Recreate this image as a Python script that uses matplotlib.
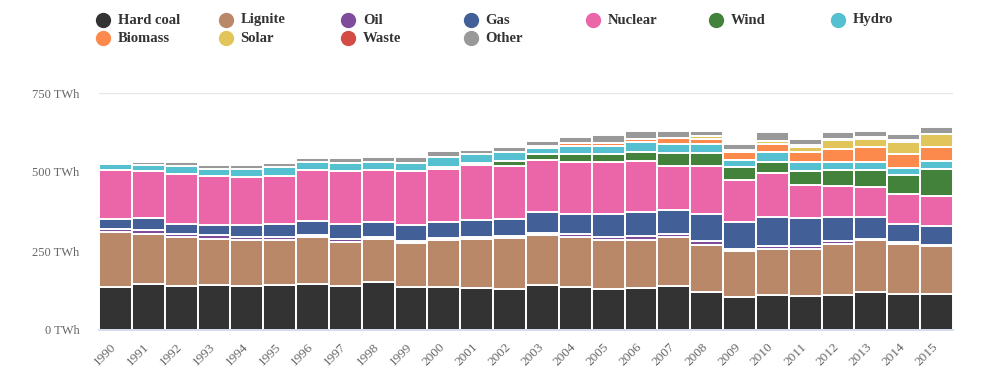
import numpy as np
import matplotlib
matplotlib.use("Agg")
import matplotlib.pyplot as plt
from matplotlib.lines import Line2D
from matplotlib.transforms import ScaledTranslation

# gross electricity generation per source, TWh
years = list(range(1990, 2016))

hard_coal = [136, 146, 138, 142, 139, 142, 146, 139, 151, 137, 137, 134, 130,
             142, 135, 130, 134, 139, 120, 103, 111, 108, 111, 121, 114, 114]
lignite = [173, 159, 155, 147, 146, 143, 147, 140, 136, 137, 148, 153, 160,
           159, 158, 155, 151, 154, 149, 147, 146, 149, 161, 164, 158, 153]
oil = [10, 11, 12, 11, 10, 8, 8, 9, 6, 8, 7, 6, 6,
       6, 11, 10, 11, 10, 13, 7, 9, 9, 9, 4, 6, 3]
gas = [32, 39, 31, 31, 36, 42, 44, 47, 50, 49, 49, 55, 55,
       66, 63, 71, 76, 77, 85, 85, 91, 88, 76, 68, 56, 59]
nuclear = [155, 148, 159, 155, 152, 153, 161, 169, 163, 171, 169, 174, 168,
           165, 166, 165, 164, 139, 152, 133, 139, 105, 99, 97, 96, 95]
wind = [0, 0, 0, 0, 0, 0, 0, 0, 0, 0, 5, 8, 15,
        19, 23, 25, 28, 40, 40, 40, 37, 45, 50, 52, 61, 86]
hydro = [19, 18, 23, 24, 27, 29, 27, 26, 26, 28, 33, 27, 30,
         19, 26, 26, 30, 30, 30, 23, 29, 27, 27, 27, 23, 26]
biomass = [0, 0, 0, 0, 0, 0, 0, 0, 0, 0, 0, 0, 0,
           6, 9, 9, 12, 20, 17, 24, 27, 31, 40, 45, 43, 44]
solar = [0, 0, 0, 0, 0, 0, 0, 0, 0, 0, 0, 0, 0,
         0, 0, 0, 0, 0, 8, 8, 10, 18, 28, 26, 37, 40]
waste = [0, 0, 0, 0, 0, 0, 0, 0, 0, 0, 0, 0, 0,
         0, 0, 0, 0, 0, 0, 0, 0, 4, 3, 8, 7, 0]
other = [0, 12, 15, 12, 12, 11, 11, 14, 17, 19, 19, 14, 16,
         17, 21, 25, 25, 22, 17, 19, 28, 22, 21, 19, 19, 23]

names = ['Hard coal', 'Lignite', 'Oil', 'Gas', 'Nuclear', 'Wind', 'Hydro',
         'Biomass', 'Solar', 'Waste', 'Other']
series = [hard_coal, lignite, oil, gas, nuclear, wind, hydro,
          biomass, solar, waste, other]
colors = ['#333333', '#b88868', '#7e4c9b', '#426097', '#ea66a8', '#43823b',
          '#55c0cf', '#fc8a4c', '#e2c55a', '#d24b44', '#999999']

y_ticks = [0, 250, 500, 750]

fig = plt.figure(figsize=(9.93, 3.87), dpi=100)
ax = fig.add_axes([99 / 993, 1 - 330 / 387, (953 - 99) / 993, (330 - 93) / 387])

x = np.arange(len(years))
bottom = np.zeros(len(years))
for vals, col in zip(series, colors):
    vals = np.array(vals, dtype=float)
    ax.bar(x, vals, bottom=bottom, width=1.0, color=col, edgecolor='white',
           linewidth=1.4, zorder=3)
    bottom += vals

ax.set_xlim(-0.5, len(years) - 0.5)
ax.set_ylim(0, 750)
ax.set_yticks(y_ticks)
ax.set_yticklabels([f'{v} TWh' for v in y_ticks], family='Liberation Serif',
                   fontsize=9, color='#666666')
ax.yaxis.grid(True, color='#e6e6e6', linewidth=1, zorder=0)
ax.set_axisbelow(True)
ax.tick_params(axis='y', length=0, pad=14)

ax.set_xticks(x)
ax.set_xticklabels([str(y) for y in years], rotation=45, ha='right',
                   rotation_mode='anchor', family='Liberation Serif',
                   fontsize=9.5, color='#666666')
ax.tick_params(axis='x', length=0, pad=8)
shift = ScaledTranslation(-5 / 100, 0, fig.dpi_scale_trans)
for lab in ax.get_xticklabels():
    lab.set_transform(lab.get_transform() + shift)

for side in ['top', 'right', 'left']:
    ax.spines[side].set_visible(False)
ax.spines['bottom'].set_color('#ccd6eb')
ax.spines['bottom'].set_linewidth(1.2)
ax.spines['bottom'].set_zorder(4)

# legend drawn by hand: two rows, fixed column spacing
for i, (name, col) in enumerate(zip(names, colors)):
    row, c = divmod(i, 7)
    mx = (103 + 122.5 * c) / 993
    my = 1 - (20 + 18 * row) / 387
    fig.add_artist(Line2D([mx], [my], marker='o', markersize=10,
                          color=col, linestyle='none',
                          transform=fig.transFigure))
    fig.text(mx + 15 / 993, my, name, family='Liberation Serif',
             fontweight='bold', fontsize=10.5, color='#333333',
             va='center', ha='left')

fig.savefig('out.png', dpi=100)
